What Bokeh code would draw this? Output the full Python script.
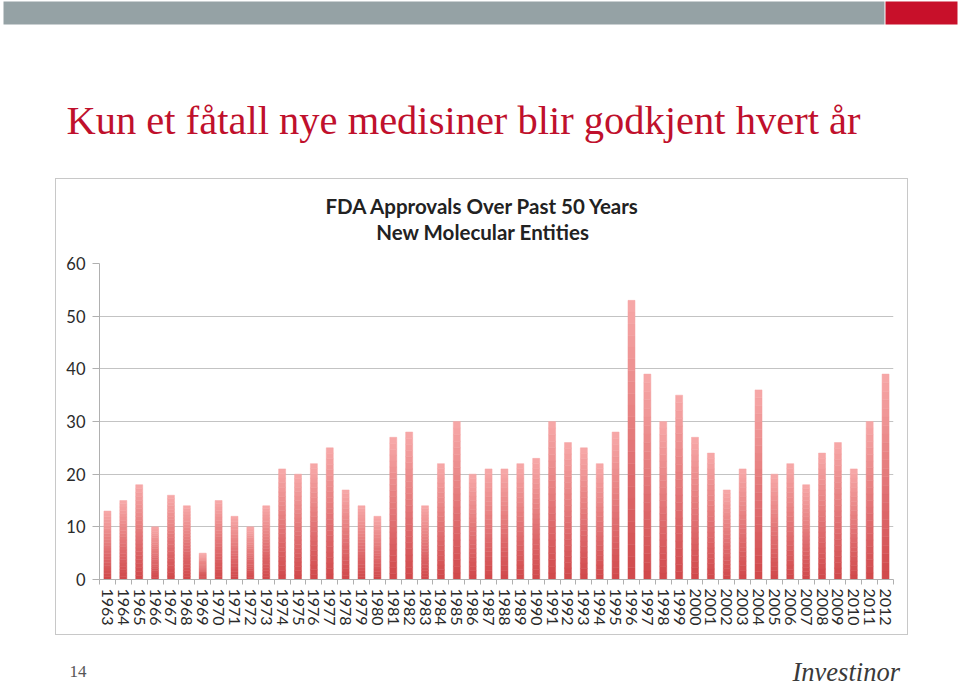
from bokeh.plotting import figure
from bokeh.models import ColumnDataSource, Range1d, FixedTicker, Spacer
from bokeh.layouts import column, row
from bokeh.core.properties import value
from bokeh.embed import file_html
from bokeh.resources import INLINE

# ---------------- data ----------------
years = [str(y) for y in range(1963, 2013)]
approvals = [13, 15, 18, 10, 16, 14, 5, 15, 12, 10,
             14, 21, 20, 22, 25, 17, 14, 12, 27, 28,
             14, 22, 30, 20, 21, 21, 22, 23, 30, 26,
             25, 22, 28, 53, 39, 30, 35, 27, 24, 17,
             21, 36, 20, 22, 18, 24, 26, 21, 30, 39]
y_ticks = [0, 10, 20, 30, 40, 50, 60]
page_title = "Kun et fåtall nye medisiner blir godkjent hvert år"
chart_title_1 = "FDA Approvals Over Past 50 Years"
chart_title_2 = "New Molecular Entities"
page_number = "14"
logo_text = "Investinor"

def blank(p):
    p.axis.visible = False
    p.grid.visible = False
    p.outline_line_color = None

# ---------------- header ----------------
W = 960
header = figure(width=W, height=178, x_range=Range1d(0, W), y_range=Range1d(178, 0),
                output_backend="svg", toolbar_location=None, min_border=0)
blank(header)
header.quad(left=[3], right=[884], top=[1], bottom=[24], fill_color="#95a2a5", line_color=None)
header.quad(left=[885], right=[957], top=[1], bottom=[24], fill_color="#c8102a", line_color=None)
header.text(x=[66], y=[120], text=[page_title], text_font=value("Liberation Serif"),
            text_font_size="40.5px", text_color="#c0102c", text_baseline="alphabetic")

# ---------------- chart title strip ----------------
BW = 853
tfig = figure(width=BW, height=75, x_range=Range1d(0, BW), y_range=Range1d(75, 0),
              output_backend="svg", toolbar_location=None, min_border=0,
              border_fill_alpha=0, background_fill_alpha=0)
blank(tfig)
tfig.text(x=[412, 412], y=[27, 53], text=[chart_title_1, chart_title_2],
          text_font=value("Lato"), text_font_style="bold", text_font_size="20.5px",
          text_color="#222222", text_align="center", text_baseline="alphabetic")

# ---------------- chart ----------------
N = 24
def mix(c1, c2, t):
    a = [int(c1[i:i + 2], 16) for i in (1, 3, 5)]
    b = [int(c2[i:i + 2], 16) for i in (1, 3, 5)]
    return "#%02x%02x%02x" % tuple(int(round(a[j] + (b[j] - a[j]) * t)) for j in range(3))

xs, bots, tops, cols = [], [], [], []
for i, v in enumerate(approvals):
    for k in range(N):
        xs.append(i + 0.5)
        bots.append(v * k / N)
        tops.append(v * (k + 1) / N)
        cols.append(mix("#d0484a", "#f7a9a9", (k + 0.5) / N))
src = ColumnDataSource(dict(x=xs, bottom=bots, top=tops, color=cols))

chart = figure(width=BW, height=382, x_range=Range1d(0, len(years)), y_range=Range1d(0, 60),
               output_backend="svg", toolbar_location=None, border_fill_alpha=0,
               min_border_left=44, min_border_right=15, min_border_top=10, min_border_bottom=56)
chart.outline_line_color = None
chart.vbar(x="x", bottom="bottom", top="top", width=0.44, fill_color="color",
           line_color="color", line_width=0.5, source=src)

chart.xgrid.visible = False
chart.ygrid.grid_line_color = "#c3c3c3"
chart.ygrid.grid_line_width = 1.2
chart.yaxis.ticker = FixedTicker(ticks=y_ticks)
chart.yaxis.axis_line_color = "#b0b0b0"
chart.yaxis.major_tick_line_color = "#b0b0b0"
chart.yaxis.major_tick_out = 7
chart.yaxis.major_tick_in = 0
chart.yaxis.minor_tick_line_color = None
chart.yaxis.major_label_standoff = 7
chart.yaxis.major_label_text_font = "Lato"
chart.yaxis.major_label_text_font_size = "16.5px"
chart.yaxis.major_label_text_color = "#2a2a2a"

centers = [i + 0.5 for i in range(len(years))]
bounds = [i for i in range(len(years) + 1)]
chart.xaxis.ticker = FixedTicker(ticks=centers, minor_ticks=bounds)
chart.xaxis.major_label_overrides = {c: y for c, y in zip(centers, years)}
chart.xaxis.major_label_orientation = "vertical"
chart.xaxis.major_tick_line_color = None
chart.xaxis.minor_tick_line_color = "#b0b0b0"
chart.xaxis.minor_tick_out = 5
chart.xaxis.minor_tick_in = 0
chart.xaxis.axis_line_color = "#b0b0b0"
chart.xaxis.major_label_standoff = 3
chart.xaxis.major_label_text_font = "Lato"
chart.xaxis.major_label_text_font_size = "16px"
chart.xaxis.major_label_text_color = "#2a2a2a"

boxed = column(tfig, chart, spacing=0,
               styles={"outline": "1px solid #c8c8c8", "outline-offset": "-1px",
                       "background-color": "white"})

# ---------------- footer ----------------
footer = figure(width=W, height=51, x_range=Range1d(0, W), y_range=Range1d(51, 0),
                output_backend="svg", toolbar_location=None, min_border=0)
blank(footer)
footer.text(x=[69], y=[36], text=[page_number], text_font=value("Liberation Serif"),
            text_font_size="17px", text_color="#555555", text_baseline="alphabetic")
footer.text(x=[792], y=[36], text=[logo_text], text_font=value("Liberation Serif"),
            text_font_style="italic", text_font_size="26.5px", text_color="#3a3a3a",
            text_baseline="alphabetic")

layout = column(header, row(Spacer(width=55, height=457), boxed, Spacer(width=52, height=457)),
                footer, spacing=0)
open("out.html", "w").write(file_html(layout, INLINE))
